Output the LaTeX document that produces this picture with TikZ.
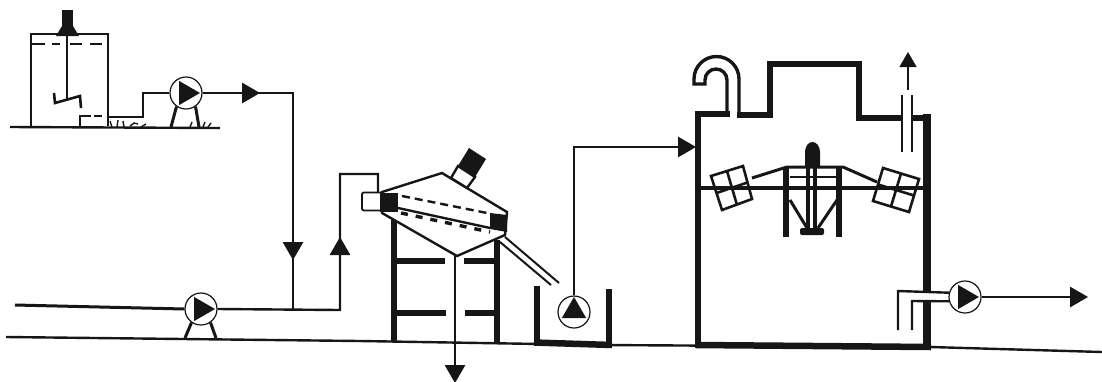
\documentclass[tikz,border=0pt]{standalone}
\usetikzlibrary{arrows.meta,positioning,shapes.geometric}
\definecolor{inkblack}{RGB}{22,22,22}
\tikzset{
  pump/.style={draw=inkblack,fill=white,circle,line width=1.2pt,minimum size=32pt,inner sep=0pt},
  pumpmark/.style={fill=inkblack,regular polygon,regular polygon sides=3,minimum size=28pt,inner sep=0pt},
  flowmark/.style={fill=inkblack,regular polygon,regular polygon sides=3,minimum size=24pt,inner sep=0pt},
  pipe/.style={draw=inkblack,line width=2.4pt},
  wall/.style={draw=inkblack,line width=6.5pt},
  leg/.style={draw=inkblack,line width=3pt},
  paddle/.style={draw=inkblack,line width=2.6pt},
}
\begin{document}
\begin{tikzpicture}[x=1pt,y=-1pt,inkblack]
    \useasboundingbox (0,0) rectangle (1102,381);

    % ground
    \draw[line width=2.4pt] (6,337) -- (360,341) -- (600,345) -- (930,347) -- (1102,352);
    \draw[line width=2.4pt] (10,127) -- (220,128);
    \draw[line width=1.4pt] (112,127) -- (110,121) (117,127) -- (118,120) (124,127) -- (123,121)
      (130,126) -- (134,123) -- (138,124) (141,127) -- (146,124) (190,127) -- (192,122) (203,127) -- (205,122) (208,127) -- (211,123);

    % dosing tank
    \draw[line width=2.6pt] (31,126) -- (31,34) -- (108,34) -- (108,126);
    \fill (62,10) rectangle (73,27);
    \fill (62,26) -- (73,26) -- (79,36) -- (56,36) -- cycle;
    \draw[line width=2.4pt] (67,34) -- (67,100);
    \draw[line width=2.4pt] (32,44) -- (45,44) (52,44) -- (60,44) (70,44) -- (82,44) (90,44) -- (102,44);
    \draw[line width=2.6pt] (54,93) -- (55,103) -- (80,96) -- (81,108);
    \draw[line width=2.4pt] (80,126) -- (80,116) -- (91,116) (94,116) -- (102,116);

    % dosing pump
    \node[pump] (dosepump) at (186,93) {};
    \node[pumpmark,shape border rotate=-90] at (186,93) {};
    \draw[leg] (dosepump.-125) -- (171,127);
    \draw[leg] (dosepump.-55) -- (199,127);
    \coordinate (tankout) at (108,117);
    \coordinate (joinpoint) at (293,310);
    \draw[pipe] (tankout) -- (143,117) -- (143,93) -- (dosepump.west);
    \draw[pipe] (dosepump.east) -- (293,93) -- (joinpoint);
    \node[flowmark,shape border rotate=-90] at (248,93) {};
    \node[flowmark,shape border rotate=180] at (293,248) {};

    % feed line
    \coordinate (feedstart) at (15,305);
    \node[pump] (feedpump) at (201,309) {};
    \node[pumpmark,shape border rotate=-90] at (201,309) {};
    \draw[leg] (feedpump.-125) -- (185,338);
    \draw[leg] (feedpump.-55) -- (216,338);
    \draw[line width=3pt] (feedstart) -- (feedpump.west);

    % screen
    \draw[line width=2.4pt,fill=white] (382,192) -- (442,173) -- (507,212) -- (505,235) -- (457,256) -- (382,213) -- cycle;
    \node[draw=inkblack,fill=white,line width=1.8pt,rounded corners=2pt,minimum width=20pt,minimum height=18pt,inner sep=0pt] (screenin) at (372,201.5) {};
    \draw[pipe] (feedpump.east) -- (340,310) -- (340,174) -- (378,174) -- (378,192);
    \node[flowmark] at (340,249) {};
    \fill (380,193) rectangle (398,212);
    \fill (490,213) -- (507,215) -- (507,232) -- (490,229) -- cycle;
    \draw[line width=2.4pt,dash pattern=on 8pt off 5pt] (402,196) -- (487,213);
    \draw[line width=2.4pt] (398,208) -- (490,228);
    \draw[line width=3.4pt,dash pattern=on 7pt off 8pt] (401,213) -- (490,232);
    \draw[line width=2.4pt,fill=white] (451,178) -- (458,166) -- (475,177) -- (467,188) -- cycle;
    \fill (469,148) -- (486,159) -- (475,177) -- (458,166) -- cycle;

    % screen stand
    \draw[wall] (394,220) -- (394,342);
    \draw[wall] (497,240) -- (497,342);
    \draw[wall] (394,261) -- (445,261) (464,261) -- (497,261);
    \draw[wall] (394,313) -- (446,313) (465,313) -- (497,313);
    \coordinate (screenout) at (455,256);
    \coordinate (sludgeout) at (455,372);
    \draw[pipe] (screenout) -- (sludgeout);
    \node[flowmark,shape border rotate=180] at (455,371) {};
    \draw[line width=2pt] (505,237) -- (559,283) (500,242) -- (551,285);

    % sump
    \draw[wall] (537,286) -- (537,344);
    \draw[wall] (609,289) -- (609,346);
    \draw[wall] (534,342.5) -- (612,345);
    \node[pump] (sumppump) at (574,312) {};
    \node[pumpmark] at (574,311) {};
    \coordinate (tankin) at (690,147);
    \draw[pipe] (sumppump.north) -- (574,147) -- (tankin);
    \node[flowmark,shape border rotate=-90] at (684,147) {};

    % aeration tank
    \draw[wall,line cap=rect] (698,345) -- (698,114) -- (727,114);
    \draw[wall] (737,115) -- (770,115) -- (770,64) -- (859,64) -- (859,118) -- (901,118);
    \draw[wall] (913,118) -- (927,118);
    \draw[line width=8pt] (927,114) -- (927,291) (927,301) -- (927,348);
    \draw[line width=6.5pt] (696,345) -- (931,347);
    \draw[line width=3.4pt] (739,114) -- (739,79) arc[start angle=0,end angle=-180,radius=22.5] -- (694,84) -- (705,84)
      -- (705,80) arc[start angle=180,end angle=360,radius=11] -- (727,114);
    \draw[line width=2.6pt] (902,95) -- (902,152) (912,95) -- (912,152);
    \coordinate (ventout) at (908,90);
    \coordinate (venttip) at (908,60);
    \draw[line width=2.8pt] (ventout) -- (venttip);
    \node[regular polygon,regular polygon sides=3,fill=inkblack,minimum size=20pt,inner sep=0pt] at (908,62) {};

    % aerator
    \draw[line width=3.4pt] (698,188) -- (925,188);
    \draw[paddle] (711,176) -- (743,166) -- (752,199) -- (722,210) -- cycle;
    \draw[paddle] (727,171) -- (737,205) (716.5,193) -- (747.5,182.5);
    \draw[paddle] (883,168) -- (919,179) -- (909,212) -- (873,201) -- cycle;
    \draw[paddle] (901,173.5) -- (891,206.5) (878,184.5) -- (914,195.5);
    \draw[line width=3pt] (752,178) -- (787,167) -- (843,167) -- (877,182);
    \draw[line width=6.5pt] (786,167) -- (786,237) (839,167) -- (839,237);
    \draw[line width=2.4pt] (790,177) -- (836,177);
    \draw[line width=3.4pt] (808,167) -- (808,232) (815,167) -- (815,232);
    \draw[line width=3pt] (790,200) -- (807,228) (837,200) -- (818,228);
    \fill[rounded corners=2pt] (800,228) rectangle (824,235);
    \fill (805,167) -- (805,152) arc[start angle=180,end angle=360,x radius=7.5,y radius=10] -- (820,167) -- cycle;

    % outlet
    \node[pump] (outpump) at (965,297) {};
    \node[pumpmark,shape border rotate=-90] at (965,297) {};
    \coordinate (outerleg) at (898,330);
    \coordinate (innerleg) at (912,330);
    \coordinate (outend) at (1075,297);
    \draw[pipe] (outerleg) -- (898,291) -- (outpump.165);
    \draw[pipe] (innerleg) -- (912,301) -- (outpump.195);
    \draw[pipe] (outpump.east) -- (outend);
    \node[flowmark,shape border rotate=-90] at (1076,297) {};
\end{tikzpicture}
\end{document}
